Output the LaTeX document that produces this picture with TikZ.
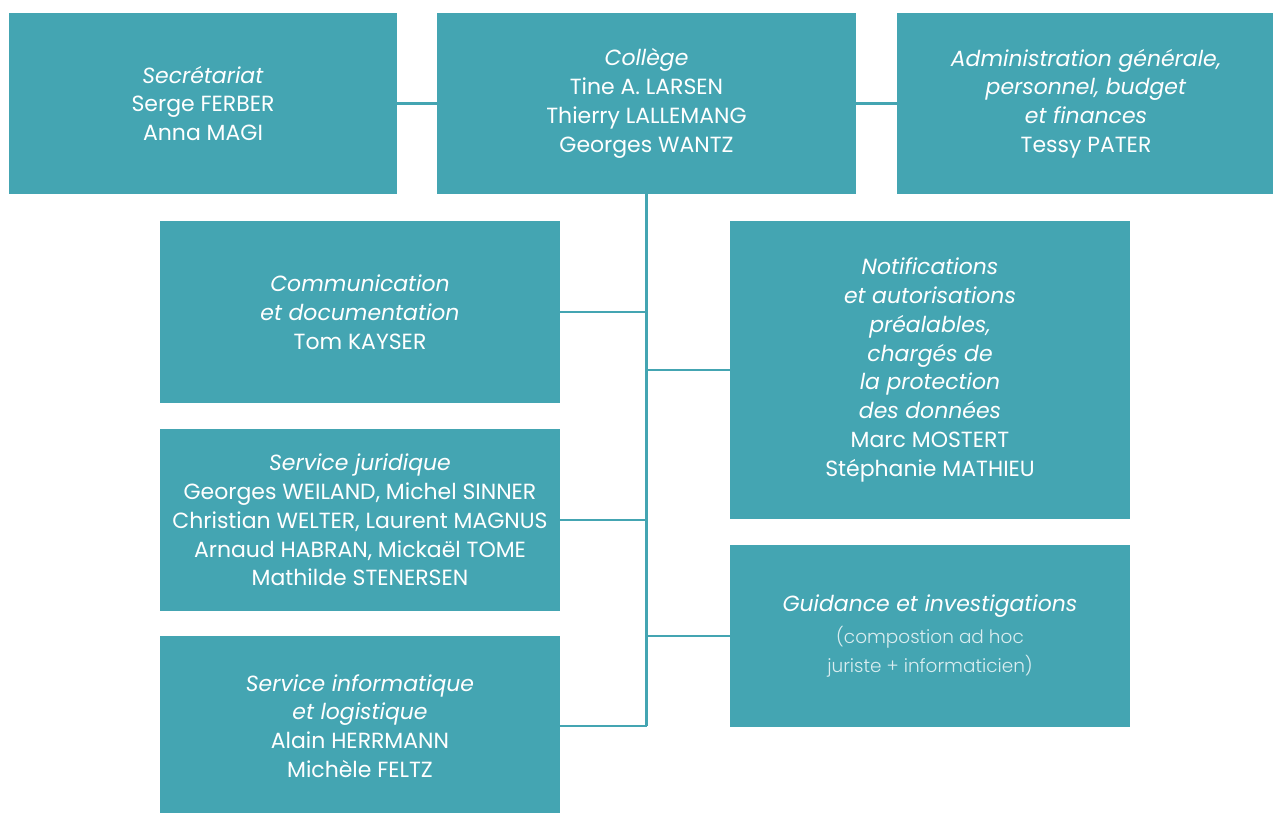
\documentclass[tikz,border=0pt]{standalone}
\usepackage{fontspec}
\setmainfont{Poppins}
\newfontfamily\thinfont{Poppins Light}
\usetikzlibrary{positioning}
\definecolor{boxteal}{RGB}{68,165,178}

\begin{document}
\begin{tikzpicture}[x=0.02cm,y=-0.02cm,
  box/.style={fill=boxteal, text=white, align=center, inner sep=0pt,
    font=\fontsize{12.5}{16.4}\selectfont},
  link/.style={draw=boxteal, line width=1.4pt}]
  \useasboundingbox (0,0) rectangle (1273,812);

  % Draw the top row
  \node[box, minimum width=7.76cm, minimum height=3.62cm] (secr) at (203,103.5)
    {\textit{Secrétariat}\\Serge FERBER\\Anna MAGI};
  \node[box, minimum width=8.38cm, minimum height=3.62cm] (college) at (646.5,103.5)
    {\textit{Collège}\\Tine A. LARSEN\\Thierry LALLEMANG\\Georges WANTZ};
  \node[box, minimum width=7.56cm, minimum height=3.62cm] (admin) at (1086,103.5)
    {\textit{Administration générale,}\\\textit{personnel, budget}\\\textit{et finances}\\Tessy PATER};

  % Draw the services on the left
  \node[box, minimum width=8cm, minimum height=3.64cm] (comm) at (360,312)
    {\textit{Communication}\\\textit{et documentation}\\Tom KAYSER};
  \node[box, minimum width=8cm, minimum height=3.64cm] (jur) at (360,520)
    {\textit{Service juridique}\\Georges WEILAND, Michel SINNER\\Christian WELTER, Laurent MAGNUS\\Arnaud HABRAN, Mickaël TOME\\Mathilde STENERSEN};
  \node[box, minimum width=8cm, minimum height=3.6cm] (info) at (360,726)
    {\textit{Service informatique}\\\textit{et logistique}\\Alain HERRMANN\\Michèle FELTZ};

  % Draw the services on the right
  \node[box, minimum width=8cm, minimum height=5.96cm] (notif) at (930,370)
    {\textit{Notifications}\\\textit{et autorisations}\\\textit{préalables,}\\\textit{chargés de}\\\textit{la protection}\\\textit{des données}\\Marc MOSTERT\\Stéphanie MATHIEU};
  \node[box, minimum width=8cm, minimum height=3.64cm] (guid) at (930,636)
    {\textit{Guidance et investigations}\\[2pt]
     \textcolor{white!80!boxteal}{\thinfont\fontsize{10.5}{14.5}\selectfont(compostion ad hoc}\\
     \textcolor{white!80!boxteal}{\thinfont\fontsize{10.5}{14.5}\selectfont juriste + informaticien)}};

  % Draw the links
  \coordinate (trunkend) at (college.south |- info.east);
  \draw[link] (secr) -- (college);
  \draw[link] (college) -- (admin);
  \draw[link] (college.south) -- (trunkend);
  \draw[link] (comm) -- (comm -| college.south);
  \draw[link] (jur) -- (jur -| college.south);
  \draw[link] (info) -- (trunkend);
  \draw[link] (notif) -- (notif -| college.south);
  \draw[link] (guid) -- (guid -| college.south);
\end{tikzpicture}
\end{document}
